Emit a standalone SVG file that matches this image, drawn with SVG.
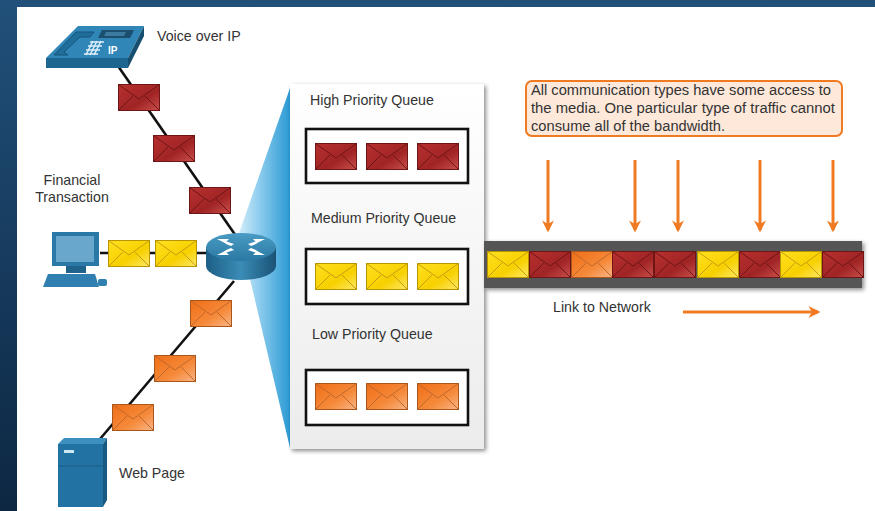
<svg xmlns="http://www.w3.org/2000/svg" width="875" height="511" viewBox="0 0 875 511">
  <defs>
    <style>
      .lbl { font-family: "Liberation Sans", Arial, sans-serif; font-size: 14.2px; fill: #333; }
      .call { font-family: "Liberation Sans", Arial, sans-serif; font-size: 14px; fill: #333; }
      .wire { stroke: #111; stroke-width: 2.6; fill: none; }
      .qbox { fill: #fff; stroke: #111; stroke-width: 2.6; }
      .oarrow { stroke: #f07a22; stroke-width: 3; fill: none; }
    </style>
    <linearGradient id="bg" x1="0" y1="0" x2="0" y2="1">
      <stop offset="0" stop-color="#21507a"/>
      <stop offset="1" stop-color="#0d2742"/>
    </linearGradient>
    <linearGradient id="fan" x1="0" y1="0" x2="1" y2="0">
      <stop offset="0" stop-color="#d4eefa"/>
      <stop offset="0.4" stop-color="#8fcdee"/>
      <stop offset="1" stop-color="#2a9ad4"/>
    </linearGradient>
    <linearGradient id="panelG" x1="0" y1="0" x2="0" y2="1">
      <stop offset="0" stop-color="#ffffff"/>
      <stop offset="1" stop-color="#ececec"/>
    </linearGradient>
    <linearGradient id="redG" x1="0" y1="0" x2="1" y2="1">
      <stop offset="0" stop-color="#b8302f"/>
      <stop offset="0.6" stop-color="#a02424"/>
      <stop offset="1" stop-color="#c9504d"/>
    </linearGradient>
    <linearGradient id="yelG" x1="0" y1="0" x2="1" y2="1">
      <stop offset="0" stop-color="#ffe020"/>
      <stop offset="0.6" stop-color="#f7d000"/>
      <stop offset="1" stop-color="#ffe866"/>
    </linearGradient>
    <linearGradient id="orgG" x1="0" y1="0" x2="1" y2="1">
      <stop offset="0" stop-color="#f06e18"/>
      <stop offset="0.6" stop-color="#f58a3a"/>
      <stop offset="1" stop-color="#f9b689"/>
    </linearGradient>
    <linearGradient id="routerSide" x1="0" y1="0" x2="1" y2="0">
      <stop offset="0" stop-color="#1d5f86"/>
      <stop offset="0.5" stop-color="#3a8cb6"/>
      <stop offset="1" stop-color="#1a5276"/>
    </linearGradient>
    <linearGradient id="routerTop" x1="0" y1="0" x2="0" y2="1">
      <stop offset="0" stop-color="#4a9cc4"/>
      <stop offset="1" stop-color="#2a78a3"/>
    </linearGradient>
    <filter id="shadow" x="-10%" y="-10%" width="130%" height="130%">
      <feDropShadow dx="2" dy="2" stdDeviation="2" flood-color="#000" flood-opacity="0.45"/>
    </filter>
    <marker id="ah" viewBox="0 0 10 10" refX="8" refY="5" markerWidth="4" markerHeight="4" orient="auto">
      <path d="M0,0 L10,5 L0,10 L3,5 Z" fill="#f07a22"/>
    </marker>

    <!-- envelopes, 42 x 27 -->
    <symbol id="envR" viewBox="0 0 42 27" width="42" height="27" overflow="visible">
      <rect x="0.5" y="0.5" width="41" height="26" fill="url(#redG)" stroke="#6e1616" stroke-width="1"/>
      <path d="M0.5,0.5 L21,15 L41.5,0.5 M0.5,26.5 L15,12 M41.5,26.5 L27,12" fill="none" stroke="#6e1616" stroke-width="1"/>
    </symbol>
    <symbol id="envY" viewBox="0 0 42 27" width="42" height="27" overflow="visible">
      <rect x="0.5" y="0.5" width="41" height="26" fill="url(#yelG)" stroke="#b89400" stroke-width="1"/>
      <path d="M0.5,0.5 L21,15 L41.5,0.5 M0.5,26.5 L15,12 M41.5,26.5 L27,12" fill="none" stroke="#c49e10" stroke-width="1"/>
    </symbol>
    <symbol id="envO" viewBox="0 0 42 27" width="42" height="27" overflow="visible">
      <rect x="0.5" y="0.5" width="41" height="26" fill="url(#orgG)" stroke="#a9561c" stroke-width="1"/>
      <path d="M0.5,0.5 L21,15 L41.5,0.5 M0.5,26.5 L15,12 M41.5,26.5 L27,12" fill="none" stroke="#c0682a" stroke-width="1"/>
    </symbol>
  </defs>

  <!-- frame -->
  <rect width="875" height="511" fill="url(#bg)"/>
  <rect x="17" y="7" width="858" height="504" fill="#ffffff"/>

  <!-- fan from router to queue panel -->
  <polygon points="238,236 290,88 290,448 250,279" fill="url(#fan)"/>

  <!-- connectors -->
  <g id="connectors">
    <line class="wire" x1="118" y1="66" x2="236" y2="236"/>
    <line class="wire" x1="100" y1="253" x2="210" y2="253"/>
    <line class="wire" x1="234" y1="281" x2="100" y2="439"/>
  </g>

  <!-- IP phone -->
  <g id="phone">
    <polygon points="46,58 78,26 144,26 128,58" fill="#2f86b7"/>
    <polygon points="46,58 128,58 128,68 46,68" fill="#1d6690"/>
    <polygon points="128,58 144,26 144,36 128,68" fill="#184f70"/>
    <!-- handset -->
    <path d="M54,55 L76,32 L94,32 L90,37 L80,37 L64,52 L68,55 Z" fill="#1f6d9a" stroke="#17557a" stroke-width="1"/>
    <!-- display -->
    <polygon points="102,30 134,30 130,38 98,38" fill="#1b4e6f"/>
    <polygon points="106,32 126,32 124,36 104,36" fill="#3d7aa0"/>
    <!-- keypad -->
    <g stroke="#dbeefa" stroke-width="1.6">
      <path d="M90,42 L104,42 M88,46 L102,46 M86,50 L100,50 M84,54 L98,54"/>
      <path d="M93,41 L86,55 M97,41 L90,55 M101,41 L94,55"/>
    </g>
    <text x="108" y="54" font-family="Liberation Sans, Arial, sans-serif" font-size="10" font-weight="bold" fill="#ffffff">IP</text>
  </g>
  <text class="lbl" x="157" y="41">Voice over IP</text>

  <!-- computer -->
  <g id="computer">
    <rect x="52" y="232" width="47" height="34" fill="#2a78a6"/>
    <rect x="56" y="236" width="38" height="26" fill="#6aa7cd"/>
    <rect x="66" y="266" width="20" height="7" fill="#1f628a"/>
    <polygon points="48,274 95,274 99,287 43,287" fill="#2f7fb0"/>
    <rect x="98" y="279" width="9" height="7" rx="2" fill="#2f7fb0"/>
  </g>
  <text class="lbl" x="72" y="185" text-anchor="middle">Financial</text>
  <text class="lbl" x="72" y="202" text-anchor="middle">Transaction</text>

  <!-- web server -->
  <g id="server">
    <polygon points="58,444 64,438 107,438 103,444" fill="#3c8fbf"/>
    <rect x="58" y="444" width="45" height="63" fill="#2273a3"/>
    <polygon points="103,444 107,438 107,500 103,507" fill="#195a82"/>
    <rect x="64" y="450" width="10" height="3" fill="#cfe6f3"/>
    <line x1="58" y1="466" x2="103" y2="466" stroke="#1b5f88" stroke-width="1"/>
  </g>
  <text class="lbl" x="119" y="478">Web Page</text>

  <!-- router -->
  <g id="router">
    <path d="M206,247 L206,266 A35,14 0 0 0 276,266 L276,247 Z" fill="url(#routerSide)"/>
    <ellipse cx="241" cy="247" rx="35" ry="14" fill="url(#routerTop)"/>
    <g fill="#ffffff">
      <polygon points="222,240 234,244 231,246 226,244"/>
      <polygon points="260,240 248,244 251,246 256,244"/>
      <polygon points="222,254 234,250 231,248 226,250"/>
      <polygon points="260,254 248,250 251,248 256,250"/>
      <polygon points="217,239 229,239 225,243"/>
      <polygon points="265,239 253,239 257,243"/>
      <polygon points="217,255 229,255 225,251"/>
      <polygon points="265,255 253,255 257,251"/>
    </g>
  </g>

  <!-- packets travelling on the wires -->
  <g id="voice-packets">
    <use href="#envR" x="118" y="84"/>
    <use href="#envR" x="153" y="135"/>
    <use href="#envR" x="189" y="187"/>
  </g>
  <g id="finance-packets">
    <use href="#envY" x="108" y="240"/>
    <use href="#envY" x="155" y="240"/>
  </g>
  <g id="web-packets">
    <use href="#envO" x="190" y="300"/>
    <use href="#envO" x="154" y="355"/>
    <use href="#envO" x="112" y="404"/>
  </g>

  <!-- queue panel -->
  <g id="queues">
    <rect x="290" y="84" width="194" height="365" fill="url(#panelG)" filter="url(#shadow)"/>
    <text class="lbl" x="310" y="105">High Priority Queue</text>
    <rect class="qbox" x="306" y="129" width="162" height="54"/>
    <use href="#envR" x="315" y="143"/>
    <use href="#envR" x="366" y="143"/>
    <use href="#envR" x="417" y="143"/>

    <text class="lbl" x="311" y="223">Medium Priority Queue</text>
    <rect class="qbox" x="306" y="249" width="162" height="55"/>
    <use href="#envY" x="315" y="263"/>
    <use href="#envY" x="366" y="263"/>
    <use href="#envY" x="417" y="263"/>

    <text class="lbl" x="312" y="339">Low Priority Queue</text>
    <rect class="qbox" x="306" y="370" width="162" height="55"/>
    <use href="#envO" x="315" y="383"/>
    <use href="#envO" x="366" y="383"/>
    <use href="#envO" x="417" y="383"/>
  </g>

  <!-- callout -->
  <g id="callout">
    <rect x="526" y="81" width="316" height="55" rx="6" fill="#fde8da" stroke="#f07a22" stroke-width="2"/>
    <text class="call" x="531" y="95" textLength="300" lengthAdjust="spacingAndGlyphs">All communication types have some access to</text>
    <text class="call" x="531" y="113" textLength="304" lengthAdjust="spacingAndGlyphs">the media. One particular type of traffic cannot</text>
    <text class="call" x="531" y="131" textLength="194" lengthAdjust="spacingAndGlyphs">consume all of the bandwidth.</text>
  </g>

  <!-- scheduling arrows -->
  <g id="arrows">
    <line class="oarrow" x1="548" y1="160" x2="548" y2="230" marker-end="url(#ah)"/>
    <line class="oarrow" x1="635" y1="160" x2="635" y2="230" marker-end="url(#ah)"/>
    <line class="oarrow" x1="678" y1="160" x2="678" y2="230" marker-end="url(#ah)"/>
    <line class="oarrow" x1="760" y1="160" x2="760" y2="230" marker-end="url(#ah)"/>
    <line class="oarrow" x1="833" y1="160" x2="833" y2="230" marker-end="url(#ah)"/>
  </g>

  <!-- outgoing link -->
  <g id="link">
    <rect x="484" y="241" width="378" height="47" fill="#555555" filter="url(#shadow)"/>
    <use href="#envY" x="487" y="251"/>
    <use href="#envR" x="529" y="251"/>
    <use href="#envO" x="571" y="251"/>
    <use href="#envR" x="612" y="251"/>
    <use href="#envR" x="654" y="251"/>
    <use href="#envY" x="697" y="251"/>
    <use href="#envR" x="739" y="251"/>
    <use href="#envY" x="780" y="251"/>
    <use href="#envR" x="822" y="251"/>
  </g>
  <text class="lbl" x="553" y="312">Link to Network</text>
  <line class="oarrow" x1="683" y1="312" x2="818" y2="312" marker-end="url(#ah)"/>
</svg>
